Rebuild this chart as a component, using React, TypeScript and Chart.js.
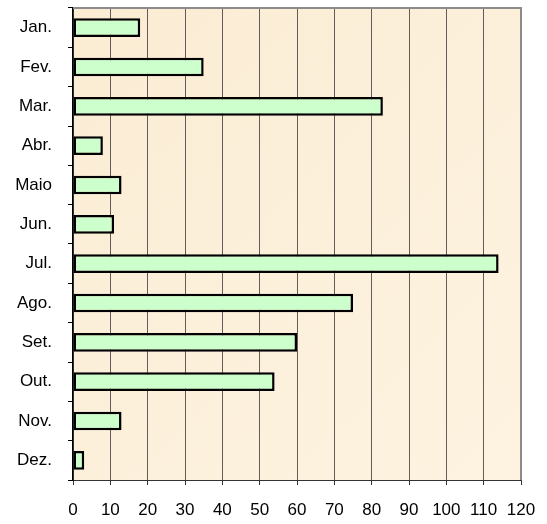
import React, { useEffect, useRef } from "react";
import { Chart, registerables } from "chart.js";

Chart.register(...registerables);

const categories = ["Jan.", "Fev.", "Mar.", "Abr.", "Maio", "Jun.", "Jul.", "Ago.", "Set.", "Out.", "Nov.", "Dez."];
const values = [18, 35, 83, 8, 13, 11, 114, 75, 60, 54, 13, 3];
const xMin = 0;
const xMax = 120;
const xStep = 10;

const FONT = "'Liberation Sans', Arial, sans-serif";

const bgPlugin = {
  id: "plotBg",
  beforeDraw(chart: any) {
    const { ctx, chartArea } = chart;
    const { left, top, right, bottom } = chartArea;
    ctx.save();
    const g = ctx.createLinearGradient(left, top, right, bottom);
    g.addColorStop(0, "#fbecd3");
    g.addColorStop(0.5, "#fcf0db");
    g.addColorStop(1, "#fdf3e0");
    ctx.fillStyle = g;
    ctx.fillRect(left, top, right - left, bottom - top);
    ctx.restore();
  },
  afterDraw(chart: any) {
    const { ctx, chartArea } = chart;
    const { left, top, right, bottom } = chartArea;
    ctx.save();
    ctx.strokeStyle = "#8c8c8c";
    ctx.lineWidth = 2;
    ctx.beginPath();
    ctx.moveTo(left, top);
    ctx.lineTo(right, top);
    ctx.lineTo(right, bottom);
    ctx.stroke();
    ctx.restore();
  },
};

export default function App() {
  const ref = useRef<HTMLCanvasElement>(null);
  useEffect(() => {
    if (!ref.current) return;
    const chart = new Chart(ref.current, {
      type: "bar",
      data: {
        labels: categories,
        datasets: [
          {
            data: values,
            backgroundColor: "#ccffcc",
            borderColor: "#000000",
            borderWidth: 2.5,
            borderSkipped: false,
            barPercentage: 0.475,
            categoryPercentage: 1,
          },
        ],
      },
      plugins: [bgPlugin],
      options: {
        indexAxis: "y",
        responsive: false,
        animation: false,
        layout: { padding: { left: 0, top: 8, right: 26, bottom: 0 } },
        plugins: { legend: { display: false }, tooltip: { enabled: false } },
        scales: {
          x: {
            min: xMin,
            max: xMax,
            ticks: {
              stepSize: xStep,
              color: "#000",
              padding: 15,
              maxRotation: 0,
              autoSkip: false,
              font: { family: FONT, size: 17 },
            },
            grid: { color: "#625e57", lineWidth: 1, tickLength: 5, tickColor: "#333" },
            border: { color: "#333", width: 1 },
            afterFit(scale: any) {
              scale.height = 44;
              scale.paddingLeft = 0;
              scale.paddingRight = 0;
            },
          },
          y: {
            ticks: {
              color: "#000",
              padding: 16,
              autoSkip: false,
              font: { family: FONT, size: 17 },
            },
            grid: { drawOnChartArea: false, tickLength: 5, color: "#000", offset: true },
            border: { color: "#000", width: 1.5 },
            afterFit(scale: any) {
              scale.width = 73;
              scale.paddingTop = 0;
              scale.paddingBottom = 0;
            },
          },
        },
      },
    });
    return () => chart.destroy();
  }, []);
  return (
    <div style={{ position: "fixed", left: 0, top: 0, width: 547, height: 524, background: "#fff" }}>
      <canvas ref={ref} width={547} height={524} style={{ width: 547, height: 524, display: "block" }} />
    </div>
  );
}
